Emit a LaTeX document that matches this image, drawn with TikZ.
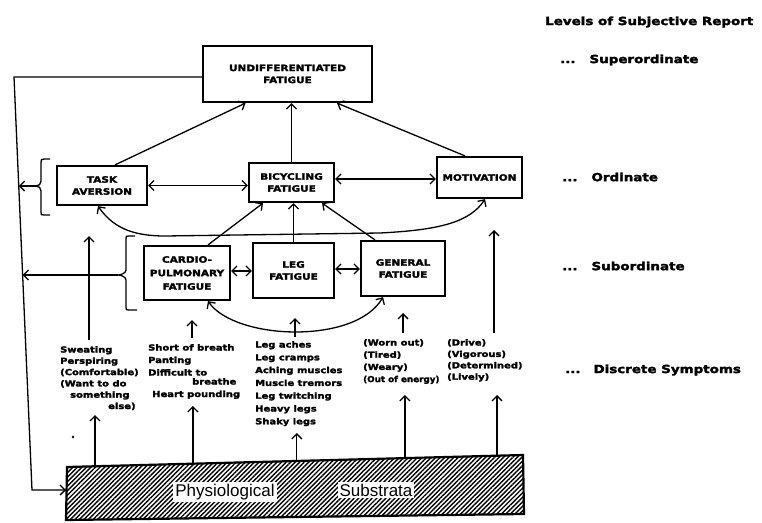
\documentclass[tikz,border=0pt]{standalone}
\usepackage{fontspec}
\usepackage{graphicx}
\newfontfamily\hv{DejaVu Sans}[FakeStretch=1.2,FakeBold=2.5]
\setsansfont{Liberation Sans}
\usetikzlibrary{arrows.meta,calc,patterns.meta}
\begin{document}
\begin{tikzpicture}[x=1pt,y=-1pt,
  conn/.style={line width=1.3pt},
  arr/.style={conn,-{Straight Barb[length=5pt,width=10pt,line width=1.3pt]}},
  darr/.style={conn,{Straight Barb[length=5pt,width=10pt,line width=1.3pt]}-{Straight Barb[length=5pt,width=10pt,line width=1.3pt]}},
  lvbox/.style={draw,line width=2.2pt,align=center,inner sep=0pt,font=\hv\bfseries\fontsize{8.75}{12}\selectfont},
  sym/.style={anchor=north west,align=left,inner sep=0pt,font=\hv\bfseries\fontsize{8.3}{#1}\selectfont},
  lvl/.style={anchor=west,inner sep=0pt,font=\hv\bfseries\fontsize{11.2}{13}\selectfont},
  subtxt/.style={fill=white,inner sep=2pt,font=\sffamily\fontsize{17}{17}\selectfont}
]
\useasboundingbox (0,0) rectangle (762,522);

% level boxes
\node[lvbox,minimum width=169pt,minimum height=56pt] (undiff) at (287.5,74) {UNDIFFERENTIATED\\FATIGUE};
\node[lvbox,minimum width=90pt,minimum height=39pt] (task) at (102,185.5) {TASK\\AVERSION};
\node[lvbox,minimum width=85pt,minimum height=39pt] (bike) at (291.5,182.5) {BICYCLING\\FATIGUE};
\node[lvbox,minimum width=85pt,minimum height=41pt] (motiv) at (479.5,177.5) {MOTIVATION};
\node[lvbox,minimum width=86pt,minimum height=54pt,font=\hv\bfseries\fontsize{8.75}{13.5}\selectfont] (cardio) at (187,273) {CARDIO-\\PULMONARY\\FATIGUE};
\node[lvbox,minimum width=81pt,minimum height=55pt] (leg) at (293.5,270.5) {LEG\\FATIGUE};
\node[lvbox,minimum width=84pt,minimum height=55pt] (gen) at (403,268.5) {GENERAL\\FATIGUE};

% upward links to undifferentiated fatigue
\draw[arr] ($(task.north)+(13,0)$) -- ($(undiff.south)+(-42,0)$);
\draw[arr] (bike.north) -- (bike.north |- undiff.south);
\draw[arr] ($(motiv.north)+(-14.5,0)$) -- ($(undiff.south)+(49.5,0)$);

% ordinate links
\draw[darr] (task.east) -- (task.east -| bike.west);
\coordinate (bm) at ($(bike.east)+(0,-3.5)$);
\draw[darr] (bm) -- (bm -| motiv.west);
\draw[darr] ($(task.south)+(-4,0)$) .. controls (112,226) and (130,236) .. (165,236) -- (380,233) .. controls (440,230) and (470,222) .. ($(motiv.south)+(5.5,0)$);

% subordinate links
\draw[arr] ($(cardio.north)+(21,0)$) -- ($(bike.south)+(-28.5,0)$);
\draw[arr] (leg.north) -- (leg.north |- bike.south);
\draw[arr] ($(gen.north)+(-28,0)$) -- ($(bike.south)+(30.5,0)$);
\coordinate (cl) at ($(cardio.east)+(0,-2)$);
\draw[darr] (cl) -- (cl -| leg.west);
\coordinate (lg) at ($(leg.east)+(0,-1.5)$);
\draw[darr] (lg) -- (lg -| gen.west);
\draw[darr] ($(cardio.south)+(21,0)$) .. controls (235,340) and (355,345) .. ($(gen.south)+(-20,0)$);

% braces
\coordinate (tb) at (36,186);
\draw[conn] (50,159) -- (44,159) .. controls (41,159) and (41,160) .. (41,163) -- (41,181) .. controls (41,184) and (39,186) .. (tb) .. controls (39,186) and (41,188) .. (41,191) -- (41,212) .. controls (41,215) .. (44,215) -- (50,215);
\coordinate (sb) at (118,275);
\draw[conn] (135,236) -- (129,236) .. controls (126,236) .. (126,239) -- (126,270) .. controls (126,273) and (121,275) .. (sb) .. controls (121,275) and (126,277) .. (126,280) -- (126,307) .. controls (126,310) .. (129,310) -- (137,310);

% substrata
\coordinate (sLT) at (67,467);
\coordinate (sRT) at (523,455);
\coordinate (sRB) at (524,514);
\coordinate (sLB) at (66,520);
\draw[line width=2.2pt,pattern={Lines[angle=45,distance=3.2pt,line width=1.4pt]}] (sLT) -- (sRT) -- (sRB) -- (sLB) -- cycle;
\node[subtxt] (phys) at (225,492) {Physiological};
\node[subtxt] (substr) at (376,490) {Substrata};

% feedback line on the left
\coordinate (lt) at (14,77);
\coordinate (lb) at (32,490);
\coordinate (sL) at (66,490);
\draw[arr] ($(undiff.west)+(0,3)$) -- (lt) -- (lb) -- (sL);
\coordinate (la) at ($(lt)!0.264!(lb)$);
\coordinate (lc) at ($(lt)!0.479!(lb)$);
\draw[arr] (tb) -- (tb -| la);
\draw[arr] (sb) -- (sb -| lc);

% symptom texts
\node[sym=11.3] (sweat) at (60,346) {Sweating\\Perspiring\\(Comfortable)\\(Want to do\\\hspace*{10pt}something\\\hspace*{48pt}else)};
\node[sym=12.5] (breath) at (148,344) {Short of breath\\Panting\\Difficult to\\[-3.5pt]\hspace*{44pt}breathe\\\hspace*{4pt}Heart pounding};
\node[sym=12.8] (legs) at (255,341) {Leg aches\\Leg cramps\\Aching muscles\\Muscle tremors\\Leg twitching\\Heavy legs\\Shaky legs};
\node[sym=12.2] (worn) at (363,339) {(Worn out)\\(Tired)\\(Weary)\\\scalebox{0.88}[1]{(Out of energy)}};
\node[sym=11.4] (drive) at (447,339) {(Drive)\\(Vigorous)\\(Determined)\\(Lively)};
\fill (73,437) circle (1.3pt);

% arrows from symptoms upward
\coordinate (u1s) at (89,340); \coordinate (u1e) at (89,236);
\coordinate (u2s) at (192,338); \coordinate (u2e) at (192,320);
\coordinate (u3s) at (295,337); \coordinate (u3e) at (295,318);
\coordinate (u4s) at (403,333); \coordinate (u4e) at (403,313);
\coordinate (u5s) at (494,333); \coordinate (u5e) at (494,230);
\draw[arr] (u1s) -- (u1e);
\draw[arr] (u2s) -- (u2e);
\draw[arr] (u3s) -- (u3e);
\draw[arr] (u4s) -- (u4e);
\draw[arr] (u5s) -- (u5e);

% arrows from substrata to symptoms
\coordinate (b1) at ($(sLT)!0.0614!(sRT)$); \coordinate (t1) at (95,415);
\coordinate (b2) at ($(sLT)!0.276!(sRT)$);  \coordinate (t2) at (193,406);
\coordinate (b3) at ($(sLT)!0.504!(sRT)$);  \coordinate (t3) at (297,433);
\coordinate (b4) at ($(sLT)!0.741!(sRT)$);  \coordinate (t4) at (405,395);
\coordinate (b5) at ($(sLT)!0.943!(sRT)$);  \coordinate (t5) at (497,395);
\draw[arr] (b1) -- (b1 |- t1);
\draw[arr] (b2) -- (b2 |- t2);
\draw[arr] (b3) -- (b3 |- t3);
\draw[arr] (b4) -- (b4 |- t4);
\draw[arr] (b5) -- (b5 |- t5);

% level labels
\node[lvl] (lvhead) at (545,22) {Levels of Subjective Report};
\node[lvl] (lv1) at (560,60) {...\hspace*{14pt}Superordinate};
\node[lvl] (lv2) at (562,177) {...\hspace*{14pt}Ordinate};
\node[lvl] (lv3) at (562,266) {...\hspace*{14pt}Subordinate};
\node[lvl] (lv4) at (565,370) {...\hspace*{13pt}Discrete Symptoms};
\end{tikzpicture}
\end{document}
